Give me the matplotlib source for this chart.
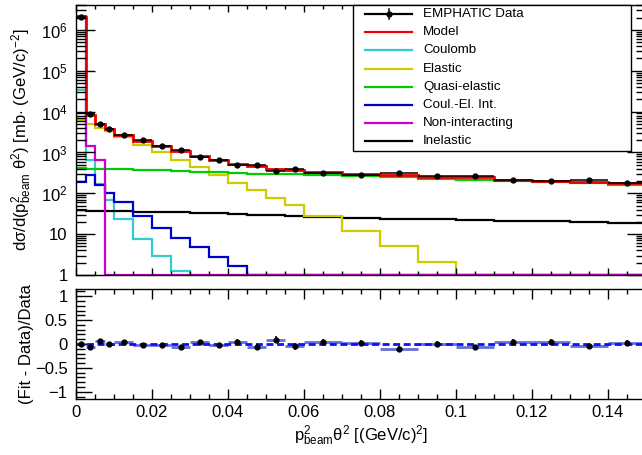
import numpy as np
import matplotlib
matplotlib.use("Agg")
import matplotlib.pyplot as plt
from matplotlib.lines import Line2D
from matplotlib.patches import Rectangle
from matplotlib.ticker import FixedLocator, MultipleLocator, LogLocator, FuncFormatter, NullFormatter

plt.rcParams['font.family'] = ['Liberation Sans', 'DejaVu Sans']
plt.rcParams['mathtext.fontset'] = 'custom'
plt.rcParams['mathtext.rm'] = 'Liberation Sans'
plt.rcParams['mathtext.it'] = 'Liberation Sans:italic'
plt.rcParams['mathtext.bf'] = 'Liberation Sans:bold'

# bin edges in p^2 theta^2 [(GeV/c)^2]
edges = np.array([0, 0.0025, 0.005, 0.0075, 0.01, 0.015, 0.02, 0.025, 0.03, 0.035,
                  0.04, 0.045, 0.05, 0.055, 0.06, 0.07, 0.08, 0.09, 0.10, 0.11,
                  0.12, 0.13, 0.14, 0.15])

data = [2.1e6, 8.6e3, 4.9e3, 3.8e3, 2.65e3, 2.0e3, 1.47e3, 1.16e3, 770, 650, 498, 500,
        356, 392, 318, 286, 312, 262, 268, 208, 197, 206, 177]
data_frac_err = [0.03, 0.03, 0.03, 0.03, 0.03, 0.03, 0.03, 0.04, 0.05, 0.05, 0.06, 0.06,
                 0.07, 0.07, 0.05, 0.05, 0.05, 0.05, 0.05, 0.06, 0.06, 0.06, 0.06]
model = [2.1e6, 8.3e3, 5.1e3, 3.8e3, 2.75e3, 1.95e3, 1.45e3, 1.1e3, 800, 640, 520, 470,
         390, 375, 330, 294, 282, 256, 246, 213, 201, 190, 176]
coulomb = [3.4e4, 660, 170, 69, 24, 7.7, 2.9, 1.25, 0, 0, 0, 0, 0, 0, 0, 0, 0, 0, 0, 0, 0, 0, 0]
elastic = [6.3e3, 5.0e3, 3.9e3, 3.35e3, 2.45e3, 1.53e3, 1.0e3, 660, 430, 285, 183, 121,
           78, 52, 28, 12, 5.1, 2.1, 0, 0, 0, 0, 0]
quasi_elastic = [405, 402, 398, 394, 388, 378, 362, 345, 335, 325, 312, 305, 298, 290,
                 274, 258, 244, 228, 213, 196, 184, 175, 162]
coul_el_int = [194, 282, 160, 104, 62, 28, 14.4, 8.2, 4.8, 2.8, 1.66, 1.02, 0, 0, 0, 0,
               0, 0, 0, 0, 0, 0, 0]
non_interacting = [2.2e6, 1450, 660, 0, 0, 0, 0, 0, 0, 0, 0, 0, 0, 0, 0, 0, 0, 0, 0, 0, 0, 0, 0]
inelastic = [38.0, 37.8, 37.5, 37.2, 36.6, 35.8, 35.0, 34.3, 33.7, 32.4, 31.2, 30.1, 29.1,
             28.5, 26.9, 25.4, 24.0, 23.1, 22.3, 21.4, 20.6, 19.9, 19.1]

ratio = [0.0, -0.07, 0.07, 0.0, 0.04, -0.03, -0.02, -0.07, 0.04, -0.02, 0.05, -0.06,
         0.09, -0.05, 0.05, 0.03, -0.10, 0.01, -0.07, 0.05, 0.04, -0.05, 0.03]
ratio_err = [0.03, 0.03, 0.03, 0.03, 0.03, 0.03, 0.03, 0.04, 0.05, 0.05, 0.06, 0.06,
             0.07, 0.07, 0.05, 0.05, 0.05, 0.05, 0.05, 0.06, 0.06, 0.06, 0.06]

C_RED = '#ee0000'
C_CYAN = '#33cccc'
C_YEL = '#cccc00'
C_GRN = '#00cc00'
C_BLU = '#0000cc'
C_MAG = '#cc00cc'

W, H = 642, 455
fig = plt.figure(figsize=(W / 100, H / 100), dpi=100)


def box(l, t, r, b):
    return [l / W, 1 - b / H, (r - l) / W, (b - t) / H]


ax = fig.add_axes(box(76, 5, 646, 275))
axr = fig.add_axes(box(76, 289, 646, 399))

centers = 0.5 * (edges[:-1] + edges[1:])
halfw = 0.5 * np.diff(edges)
ymin, ymax = 1.0, 10 ** 6.61

# histograms: zero / below-range bins sit on the bottom axis like ROOT does
def clip(v):
    return np.clip(np.asarray(v, float), ymin, None)

for vals, col in [(coulomb, C_CYAN), (inelastic, 'k'), (elastic, C_YEL), (quasi_elastic, C_GRN),
                  (coul_el_int, C_BLU), (non_interacting, C_MAG)]:
    ax.stairs(clip(vals), edges, color=col, lw=1.6, baseline=None)
ax.stairs(clip(model), edges, color=C_RED, lw=2.0, baseline=None)
d = np.asarray(data)
ax.errorbar(centers, d, xerr=halfw, yerr=d * np.asarray(data_frac_err), fmt='o', ms=3.5,
            color='k', lw=1.1, capsize=0, zorder=5)

ax.set_yscale('log')
ax.set_xlim(0, 0.15)
ax.set_ylim(ymin, ymax)


def logfmt(v, pos):
    n = int(round(np.log10(v)))
    if n == 0:
        return '1'
    if n == 1:
        return '10'
    return r'$10^{%d}$' % n


ax.yaxis.set_major_locator(FixedLocator([10.0 ** k for k in range(0, 7)]))
ax.yaxis.set_major_formatter(FuncFormatter(logfmt))
ax.yaxis.set_minor_locator(LogLocator(base=10, subs=np.arange(2, 10), numticks=30))
ax.yaxis.set_minor_formatter(NullFormatter())
ax.xaxis.set_major_locator(MultipleLocator(0.02))
ax.xaxis.set_minor_locator(MultipleLocator(0.005))
ax.tick_params(axis='both', which='both', direction='in', top=True, right=True,
               labelbottom=False, labelsize=12)
ax.tick_params(axis='y', which='major', length=13.5, width=1, pad=6)
ax.tick_params(axis='y', which='minor', length=7.5, width=1)
ax.tick_params(axis='x', which='major', length=5, width=1)
ax.tick_params(axis='x', which='minor', length=3, width=1)
ax.set_ylabel('dσ/d(p$^{2}_{\\mathrm{beam}}$ θ$^{2}$) [mb$\\cdot$ (GeV/c)$^{-2}$]', fontsize=12)
ax.yaxis.set_label_coords(-0.074, 0.5)

# ratio panel
axr.hlines(ratio, edges[:-1], edges[1:], color='#3040c8', lw=2, alpha=0.75)
axr.axhline(0, color='#1010ff', ls=(0, (2.5, 1.3)), lw=2)
axr.errorbar(centers, ratio, yerr=ratio_err, fmt='o', ms=3.5, color='k', lw=1.1,
             capsize=0, zorder=5)
axr.set_xlim(0, 0.15)
axr.set_ylim(-1.15, 1.15)
axr.yaxis.set_major_locator(MultipleLocator(0.5))
axr.yaxis.set_minor_locator(MultipleLocator(0.1))
axr.xaxis.set_major_locator(MultipleLocator(0.02))
axr.xaxis.set_minor_locator(MultipleLocator(0.005))
axr.xaxis.set_major_formatter(FuncFormatter(lambda v, p: '%g' % round(v, 3)))
axr.yaxis.set_major_formatter(FuncFormatter(lambda v, p: ('%g' % v).replace('-', '\u2212')))
axr.tick_params(axis='both', which='both', direction='in', top=True, labelsize=12)
axr.tick_params(axis='y', which='major', length=11.5, width=1, pad=6)
axr.tick_params(axis='y', which='minor', length=6.5, width=1)
axr.tick_params(axis='x', which='major', length=7, width=1, pad=4)
axr.tick_params(axis='x', which='minor', length=3.6, width=1)
axr.set_ylabel('(Fit - Data)/Data', fontsize=12)
axr.yaxis.set_label_coords(-0.074, 0.5)
axr.set_xlabel('p$^{2}_{\\mathrm{beam}}$θ$^{2}$ [(GeV/c)$^{2}$]', fontsize=12, labelpad=3)

for a in (ax, axr):
    for s in a.spines.values():
        s.set_linewidth(1)

# legend drawn by hand in ROOT style
entries = [('EMPHATIC Data', 'k'), ('Model', C_RED), ('Coulomb', C_CYAN), ('Elastic', C_YEL),
           ('Quasi-elastic', C_GRN), ('Coul.-El. Int.', C_BLU), ('Non-interacting', C_MAG),
           ('Inelastic', 'k')]
ll, lt, lr, lb = 353, 5, 631, 151
fig.add_artist(Rectangle((ll / W, 1 - lb / H), (lr - ll) / W, (lb - lt) / H,
                         transform=fig.transFigure, facecolor='white', edgecolor='k',
                         lw=1, zorder=5))
for i, (lab, col) in enumerate(entries):
    yy = 1 - (14 + 18.2 * i) / H
    fig.add_artist(Line2D([365 / W, 412 / W], [yy, yy], color=col, lw=1.6,
                          transform=fig.transFigure, zorder=6))
    if i == 0:
        fig.add_artist(Line2D([388.5 / W] * 2, [yy - 5 / H, yy + 5 / H], color='k', lw=1.1,
                              transform=fig.transFigure, zorder=6))
        fig.add_artist(Line2D([388.5 / W], [yy], color='k', marker='o', ms=3.5,
                              transform=fig.transFigure, zorder=7))
    fig.text(423 / W, yy, lab, va='center', ha='left', fontsize=9.6, zorder=7)

fig.savefig('out.png', dpi=100)
